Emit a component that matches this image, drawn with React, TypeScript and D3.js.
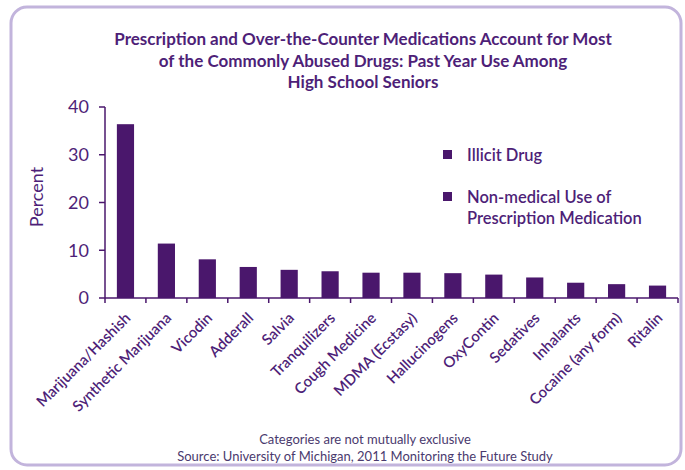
import React from "react";
import * as d3 from "d3";

const categories = [
  "Marijuana/Hashish",
  "Synthetic Marijuana",
  "Vicodin",
  "Adderall",
  "Salvia",
  "Tranquilizers",
  "Cough Medicine",
  "MDMA (Ecstasy)",
  "Hallucinogens",
  "OxyContin",
  "Sedatives",
  "Inhalants",
  "Cocaine (any form)",
  "Ritalin",
];
const values = [36.4, 11.4, 8.1, 6.5, 5.9, 5.6, 5.3, 5.3, 5.2, 4.9, 4.3, 3.2, 2.9, 2.6];
const yTicks = [0, 10, 20, 30, 40];
const titleLines = [
  "Prescription and Over-the-Counter Medications Account for Most",
  "of the Commonly Abused Drugs: Past Year Use Among",
  "High School Seniors",
];
const legendItems = [["Illicit Drug"], ["Non-medical Use of", "Prescription Medication"]];
const footerLines = [
  "Categories are not mutually exclusive",
  "Source: University of Michigan, 2011 Monitoring the Future Study",
];

const BAR = "#4a176c";
const TEXT = "#4e1f78";
const FONT = "Lato, 'Open Sans', sans-serif";

export default function App() {
  const x = d3
    .scaleBand<string>()
    .domain(categories)
    .range([105, 678])
    .paddingInner(0.58)
    .paddingOuter(0.29);
  const y = d3.scaleLinear().domain([0, 40]).range([298, 107]);
  const step = x.step();
  const x0 = 105;
  const boundaries = d3.range(categories.length + 1).map((i) => x0 + i * step);

  return (
    <svg
      width={685}
      height={470}
      style={{ position: "absolute", left: 0, top: 0, background: "#fff" }}
      fontFamily={FONT}
    >
      <rect x={11} y={7} width={670} height={458} rx={16} fill="#fff" stroke="#c2b4dc" strokeWidth={3} />
      {titleLines.map((t, i) => (
        <text key={i} x={363} y={45 + i * 21.5} textAnchor="middle" fontSize={17} fontWeight={700} fill={TEXT}>
          {t}
        </text>
      ))}
      {/* y axis */}
      <line x1={105} x2={105} y1={y(40)} y2={y(0)} stroke={BAR} strokeWidth={1.5} />
      {yTicks.map((t) => (
        <g key={t}>
          <line x1={99} x2={105} y1={y(t)} y2={y(t)} stroke={BAR} strokeWidth={1.5} />
          <text x={89} y={y(t)} dy="0.35em" textAnchor="end" fontSize={18} fill={TEXT}>
            {t}
          </text>
        </g>
      ))}
      <text
        transform={`translate(43,197) rotate(-90)`}
        textAnchor="middle"
        fontSize={18}
        fill={TEXT}
      >
        Percent
      </text>
      {/* bars */}
      {categories.map((c, i) => (
        <rect key={c} x={x(c)} y={y(values[i])} width={x.bandwidth()} height={y(0) - y(values[i])} fill={BAR} />
      ))}
      {/* x axis */}
      <line x1={105} x2={678} y1={y(0)} y2={y(0)} stroke={BAR} strokeWidth={1.5} />
      {boundaries.map((b, i) => (
        <line key={i} x1={b} x2={b} y1={y(0)} y2={y(0) + 5} stroke={BAR} strokeWidth={1.5} />
      ))}
      {categories.map((c) => {
        const cx = (x(c) as number) + x.bandwidth() / 2 + 6;
        return (
          <text
            key={c}
            transform={`translate(${cx},${y(0) + 21}) rotate(-45)`}
            textAnchor="end"
            fontSize={15}
            fontWeight={600}
            fill={TEXT}
          >
            {c}
          </text>
        );
      })}
      {/* legend */}
      {legendItems.map((lines, i) => {
        const ly = 155 + i * 42;
        return (
          <g key={i}>
            <rect x={443} y={ly - 5} width={9} height={9} fill={BAR} />
            {lines.map((l, j) => (
              <text key={j} x={467} y={ly + j * 21} dy="0.35em" fontSize={16.5} fontWeight={600} fill={TEXT}>
                {l}
              </text>
            ))}
          </g>
        );
      })}
      {footerLines.map((t, i) => (
        <text key={i} x={365} y={444 + i * 17} textAnchor="middle" fontSize={13} fill="#4a3a6e">
          {t}
        </text>
      ))}
    </svg>
  );
}
